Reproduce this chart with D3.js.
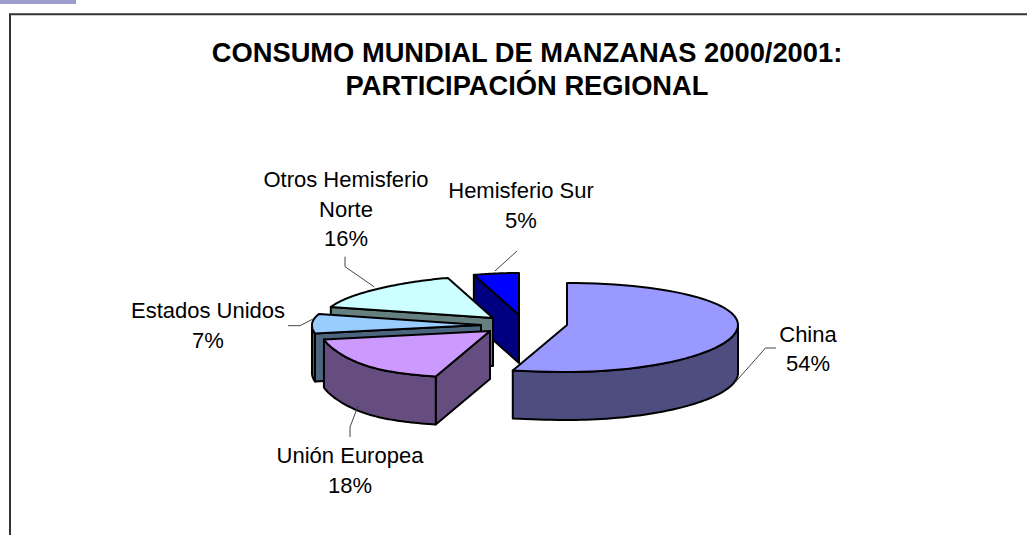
<!DOCTYPE html>
<html><head><meta charset="utf-8">
<script src="https://cdn.jsdelivr.net/npm/d3@7"></script>
<style>html,body{margin:0;padding:0;background:#fff;overflow:hidden}svg{display:block}text{font-family:"Liberation Sans",Arial,sans-serif;fill:#000}</style>
</head><body><svg id="c" width="1027" height="535"></svg>
<script>
const categories = ["China","Unión Europea","Estados Unidos","Otros Hemisferio Norte","Hemisferio Sur"];
const values = [54,18,7,16,5];
const topColors = ["#9999FF","#CC99FF","#99CCFF","#CCFFFF","#0000FF"];
const sideColors = ["#4D4D80","#664D80","#4D6680","#668080","#000080"];
const titleLines = ["CONSUMO MUNDIAL DE MANZANAS 2000/2001:","PARTICIPACIÓN REGIONAL"];

// layout
const apex = [[567,325],[490,331],[481,325],[493,318],[519,315]];
const labelPos = [[808,341.5],[350,463],[208,318],[346,187],[521,198]];
const leaders = [
  [[735,382.5],[765.5,348],[776,348]],
  [[358,406],[350,427],[350,437]],
  [[313,319],[300,325.7],[288,325.7]],
  [[374,286.7],[345,266.7],[345,256.7]],
  [[495,271],[517,251]]
];
const depth = 48, rxR = 171, rxL = 169, ryMid = 44.5, ryK = 0.056;

const svg = d3.select("#c");
svg.append("rect").attr("x",0).attr("y",0).attr("width",76).attr("height",4).attr("fill","#9C9CCE");
svg.append("path").attr("d","M10,535V14.3H1027").attr("fill","none").attr("stroke","#333").attr("stroke-width",2);

svg.selectAll("text.t").data(titleLines).join("text").attr("class","t")
  .attr("x",527).attr("y",(d,i)=>62+i*33).attr("text-anchor","middle")
  .attr("font-size",27.3).attr("font-weight","bold").text(d=>d);

const arcs = d3.pie().sort(null).value(d=>d)(values);
const project = (c,a,r=1,dz=0)=>{
  const s=Math.sin(a), co=Math.cos(a);
  const f = s>=0 ? 1 : (co<0 ? 1+0.33*co**4 : 1-0.15*co*co);
  const rx = s>0?rxR:rxL;
  return [c[0]+r*rx*s*f, c[1]-r*ryMid*(1-ryK*co)*co+dz];
};
const line = d3.line();
const sample = (a0,a1)=>d3.range(0,61).map(i=>a0+(a1-a0)*i/60);
const order = [4,3,2,1,0];
const strokeAttrs = s=>s.attr("stroke","#000").attr("stroke-width",2).attr("stroke-linejoin","round");
order.forEach(i=>{
  const c=apex[i], a=arcs[i], g=svg.append("g");
  const wall = ang=>{
    const p=project(c,ang), q=project(c,ang,1,depth), o=[c[0],c[1]+depth];
    g.append("path").attr("d",line([c,p,q,o])+"Z").attr("fill",sideColors[i]).call(strokeAttrs);
  };
  if(Math.sin(a.startAngle)<-1e-6) wall(a.startAngle);
  if(Math.sin(a.endAngle)>1e-6) wall(a.endAngle);
  const lo=Math.max(a.startAngle,Math.PI/2), hi=Math.min(a.endAngle,3*Math.PI/2);
  if(hi>lo){
    const ang=sample(lo,hi);
    const pts=ang.map(t=>project(c,t)).concat(ang.slice().reverse().map(t=>project(c,t,1,depth)));
    g.append("path").attr("d",line(pts)+"Z").attr("fill",sideColors[i]).call(strokeAttrs);
  }
  const topPts=[c].concat(sample(a.startAngle,a.endAngle).map(t=>project(c,t)));
  g.append("path").attr("d",line(topPts)+"Z").attr("fill",topColors[i]).call(strokeAttrs);
});

leaders.forEach(l=>svg.append("path").attr("d",line(l)).attr("fill","none").attr("stroke","#444").attr("stroke-width",1));

const wrap = {"Otros Hemisferio Norte":["Otros Hemisferio","Norte"]};
categories.forEach((n,i)=>{
  const lines=(wrap[n]||[n]).concat(values[i]+"%");
  lines.forEach((t,k)=>svg.append("text").attr("x",labelPos[i][0]).attr("y",labelPos[i][1]+k*29.7)
    .attr("text-anchor","middle").attr("font-size",22).text(t));
});
</script></body></html>
